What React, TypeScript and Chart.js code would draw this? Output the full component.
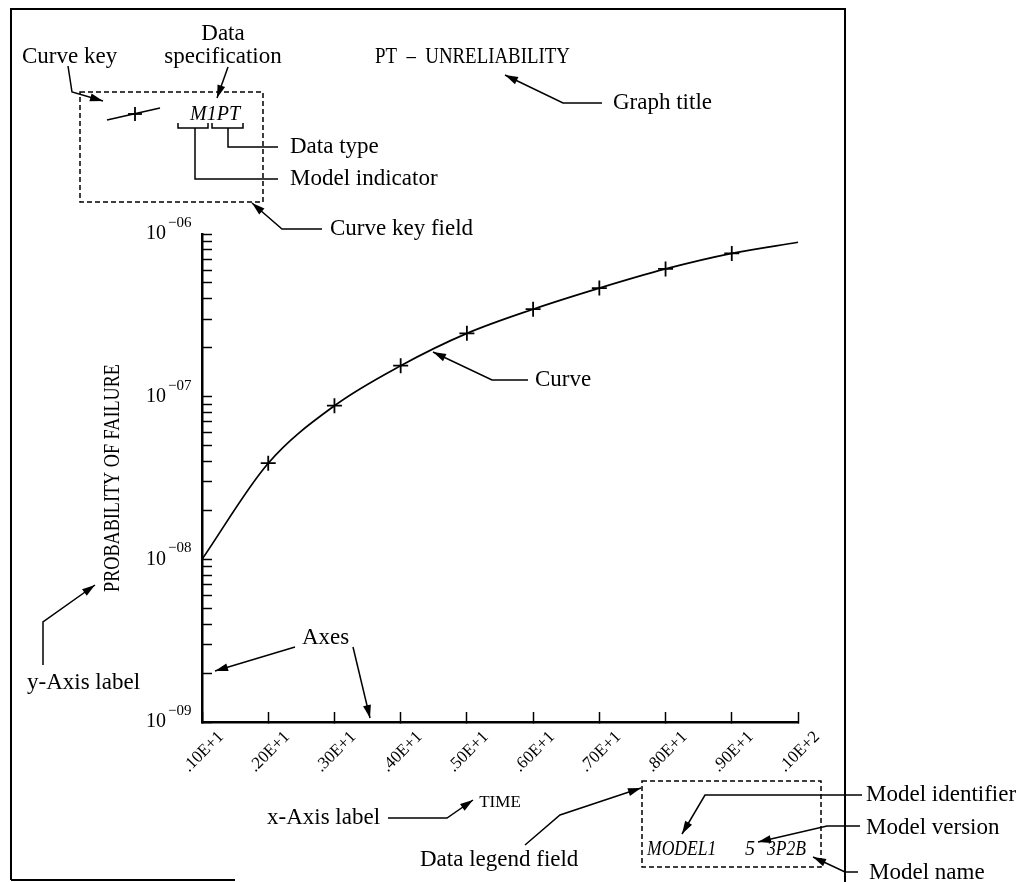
import React, { useEffect, useRef } from "react";
import { Chart, registerables } from "chart.js";

Chart.register(...registerables);

// ---------------- data ----------------
const timeValues = [1, 2, 3, 4, 5, 6, 7, 8, 9, 10];
const failureProbability = [1.0e-8, 3.9e-8, 8.8e-8, 1.55e-7, 2.45e-7, 3.45e-7, 4.65e-7, 6.1e-7, 7.6e-7, 8.9e-7];
const markerShown = [false, true, true, true, true, true, true, true, true, false];
const xTickLabels = [".10E+1", ".20E+1", ".30E+1", ".40E+1", ".50E+1", ".60E+1", ".70E+1", ".80E+1", ".90E+1", ".10E+2"];
const yDecades = [1e-9, 1e-8, 1e-7, 1e-6];
const yDecadeExponents = ["\u221209", "\u221208", "\u221207", "\u221206"];
const yMinorMultipliers = [2, 3, 4, 5, 6, 7, 8, 9];
const graphTitle = "PT  \u2013  UNRELIABILITY";
const yAxisTitle = "PROBABILITY OF FAILURE";
const xAxisTitle = "TIME";
const curveKeyText = "M1PT";
const legendParts = ["MODEL1", "5", "3P2B"];

const SERIF = "'Liberation Serif', 'Times New Roman', 'DejaVu Serif', serif";

type Pt = [number, number];

function polyline(ctx: CanvasRenderingContext2D, pts: Pt[], head: boolean) {
  ctx.beginPath();
  ctx.moveTo(pts[0][0], pts[0][1]);
  for (let i = 1; i < pts.length; i++) ctx.lineTo(pts[i][0], pts[i][1]);
  ctx.stroke();
  if (head) {
    const [x1, y1] = pts[pts.length - 2];
    const [x2, y2] = pts[pts.length - 1];
    const a = Math.atan2(y2 - y1, x2 - x1);
    const L = 13;
    const W = 4;
    const c = Math.cos(a);
    const s = Math.sin(a);
    ctx.beginPath();
    ctx.moveTo(x2, y2);
    ctx.lineTo(x2 - L * c + W * s, y2 - L * s - W * c);
    ctx.lineTo(x2 - L * c - W * s, y2 - L * s + W * c);
    ctx.closePath();
    ctx.fill();
  }
}

function txt(
  ctx: CanvasRenderingContext2D,
  s: string,
  x: number,
  y: number,
  font: string,
  align: CanvasTextAlign = "left",
  sx = 1
) {
  ctx.save();
  ctx.font = font;
  ctx.textAlign = align;
  ctx.textBaseline = "middle";
  ctx.translate(x, y);
  ctx.scale(sx, 1);
  ctx.fillText(s, 0, 0);
  ctx.restore();
}

const annotationPlugin = {
  id: "annotations",
  afterDraw(chart: any) {
    const ctx: CanvasRenderingContext2D = chart.ctx;
    const yScale = chart.scales.y;
    ctx.save();
    ctx.fillStyle = "#000";
    ctx.strokeStyle = "#000";
    ctx.lineCap = "butt";

    // outer frame
    ctx.lineWidth = 2;
    ctx.beginPath();
    ctx.moveTo(11, 880);
    ctx.lineTo(11, 9);
    ctx.lineTo(845, 9);
    ctx.lineTo(845, 882);
    ctx.moveTo(11, 880);
    ctx.lineTo(235, 880);
    ctx.stroke();

    // y tick labels (decades) through the log scale
    yDecades.forEach((v, i) => {
      const py = yScale.getPixelForValue(v);
      txt(ctx, "10", 166, py, `20px ${SERIF}`, "right");
      txt(ctx, yDecadeExponents[i], 168, py - 11, `15px ${SERIF}`, "left");
    });

    // y-axis title (condensed, rotated)
    ctx.save();
    ctx.translate(113, (yScale.getPixelForValue(1e-8) + yScale.getPixelForValue(1e-7)) / 2);
    ctx.rotate(-Math.PI / 2);
    txt(ctx, yAxisTitle, 0, 0, `23px ${SERIF}`, "center", 0.79);
    ctx.restore();

    // graph title
    txt(ctx, graphTitle, 375, 57, `23px ${SERIF}`, "left", 0.82);

    const F = `23px ${SERIF}`;
    // labels
    txt(ctx, "Data", 223, 34, F, "center");
    txt(ctx, "specification", 223, 57, F, "center");
    txt(ctx, "Curve key", 22, 57, F);
    txt(ctx, "Graph title", 613, 103, F);
    txt(ctx, "Data type", 290, 147, F);
    txt(ctx, "Model indicator", 290, 179, F);
    txt(ctx, "Curve key field", 330, 229, F);
    txt(ctx, "Curve", 535, 380, F);
    txt(ctx, "y-Axis label", 27, 683, F);
    txt(ctx, "Axes", 302, 638, F);
    txt(ctx, "x-Axis label", 267, 818, F);
    txt(ctx, "Data legend field", 420, 860, F);
    txt(ctx, "Model identifier", 866, 795, F);
    txt(ctx, "Model version", 866, 828, F);
    txt(ctx, "Model name", 869, 873, F);

    // curve key
    txt(ctx, curveKeyText, 190, 115, `italic 20px ${SERIF}`);
    ctx.lineWidth = 1.6;
    polyline(ctx, [[107, 120], [160, 108]], false);
    ctx.lineWidth = 1.8;
    polyline(ctx, [[128, 114], [142, 114]], false);
    polyline(ctx, [[135, 107], [135, 121]], false);

    // legend content
    txt(ctx, legendParts[0], 647, 850, `italic 20px ${SERIF}`, "left", 0.88);
    txt(ctx, legendParts[1], 745, 850, `italic 20px ${SERIF}`);
    txt(ctx, legendParts[2], 767, 850, `italic 20px ${SERIF}`, "left", 0.88);

    // arrows / leader lines
    ctx.lineWidth = 1.5;
    polyline(ctx, [[68, 66], [72, 92], [103, 101]], true);
    polyline(ctx, [[228, 67], [217, 98]], true);
    polyline(ctx, [[602, 103], [563, 103], [505, 75]], true);
    polyline(ctx, [[212, 123], [212, 128], [243, 128], [243, 123]], false);
    polyline(ctx, [[228, 128], [228, 147], [278, 147]], false);
    polyline(ctx, [[178, 123], [178, 128], [208, 128], [208, 123]], false);
    polyline(ctx, [[195, 128], [195, 179], [278, 179]], false);
    polyline(ctx, [[322, 229], [282, 229], [252, 203]], true);
    polyline(ctx, [[528, 380], [492, 380], [433, 352]], true);
    polyline(ctx, [[43, 665], [43, 622], [95, 585]], true);
    polyline(ctx, [[295, 647], [215, 671]], true);
    polyline(ctx, [[353, 647], [370, 718]], true);
    polyline(ctx, [[388, 818], [447, 818], [473, 800]], true);
    polyline(ctx, [[525, 845], [560, 815], [641, 788]], true);
    polyline(ctx, [[862, 795], [705, 795], [682, 834]], true);
    polyline(ctx, [[860, 826], [827, 826], [758, 842]], true);
    polyline(ctx, [[858, 872], [845, 872], [813, 857]], true);

    // dashed boxes
    ctx.setLineDash([5, 3]);
    ctx.lineWidth = 1.5;
    ctx.strokeRect(80, 92, 183, 110);
    ctx.strokeRect(642, 781, 179, 86);
    ctx.setLineDash([]);
    ctx.restore();
  },
};

export default function App() {
  const ref = useRef<HTMLCanvasElement | null>(null);

  useEffect(() => {
    document.body.style.margin = "0";
    const canvas = ref.current;
    if (!canvas) return;

    const yTickValues: number[] = [];
    yDecades.forEach((d, i) => {
      yTickValues.push(d);
      if (i < yDecades.length - 1) yMinorMultipliers.forEach((m) => yTickValues.push(d * m));
    });

    const chart = new Chart(canvas, {
      type: "line",
      data: {
        datasets: [
          {
            data: timeValues.map((t, i) => ({ x: t, y: failureProbability[i] })),
            borderColor: "#000",
            borderWidth: 1.7,
            pointStyle: "cross",
            pointRadius: markerShown.map((m) => (m ? 7.5 : 0)),
            pointBorderWidth: 1.8,
            pointBorderColor: "#000",
            pointBackgroundColor: "#000",
            cubicInterpolationMode: "monotone",
            fill: false,
            clip: false,
          } as any,
        ],
      },
      options: {
        responsive: false,
        animation: false,
        devicePixelRatio: 1,
        events: [],
        layout: { padding: { left: 0, top: 234, right: 232, bottom: 0 } },
        plugins: {
          legend: { display: false },
          tooltip: { enabled: false },
          title: { display: false },
        },
        scales: {
          x: {
            type: "linear",
            min: 1,
            max: 10,
            afterBuildTicks: (s: any) => {
              s.ticks = timeValues.map((v) => ({ value: v }));
            },
            afterFit: (s: any) => {
              s.height = 160;
            },
            ticks: {
              autoSkip: false,
              maxRotation: 45,
              minRotation: 45,
              callback: (_v: any, i: number) => xTickLabels[i] ?? "",
              font: { family: SERIF, size: 17 },
              color: "#000",
              padding: 15,
              labelOffset: 19,
            },
            grid: {
              drawOnChartArea: false,
              drawTicks: true,
              tickLength: -10,
              tickWidth: 1.5,
              tickColor: "#000",
            },
            border: { display: true, color: "#000", width: 2.5 },
            title: {
              display: true,
              text: xAxisTitle,
              font: { family: SERIF, size: 17 },
              color: "#000",
              padding: { top: 0, bottom: 69 },
            },
          },
          y: {
            type: "logarithmic",
            min: 1e-9,
            max: 1e-6,
            afterBuildTicks: (s: any) => {
              s.ticks = yTickValues.map((v) => ({ value: v, major: yDecades.includes(v) }));
            },
            afterFit: (s: any) => {
              s.width = 202;
            },
            ticks: { display: false, autoSkip: false },
            grid: {
              drawOnChartArea: false,
              drawTicks: true,
              tickLength: -10,
              tickWidth: 1.5,
              tickColor: "#000",
            },
            border: { display: true, color: "#000", width: 2.5 },
          },
        },
      } as any,
      plugins: [annotationPlugin],
    });

    return () => chart.destroy();
  }, []);

  return (
    <div style={{ width: 1030, height: 882, position: "relative", background: "#fff" }}>
      <canvas ref={ref} width={1030} height={882} style={{ display: "block" }} />
    </div>
  );
}
